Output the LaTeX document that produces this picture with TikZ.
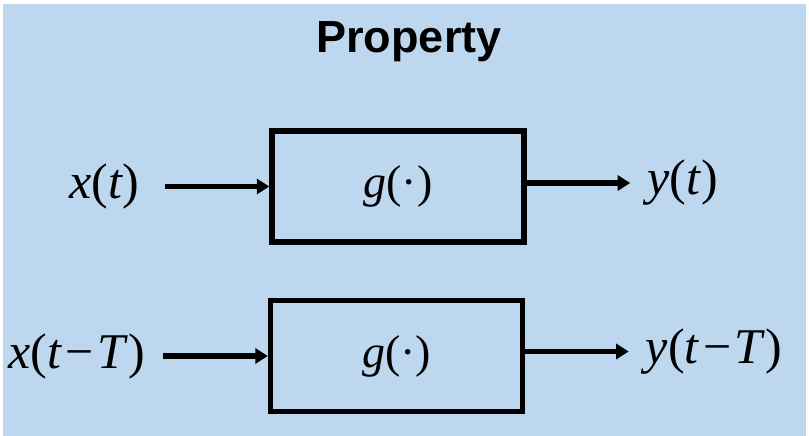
\documentclass[tikz,border=0pt]{standalone}
\usepackage{fontspec}
\setmainfont{Liberation Serif}
\newfontfamily\titlefont{Liberation Sans}
\usetikzlibrary{arrows.meta,positioning}
\definecolor{bgblue}{RGB}{189,215,238}
\newcommand{\sminus}{\hspace{0.07em}−\hspace{0.07em}}

\begin{document}
\begin{tikzpicture}[x=1pt, y=1pt, >=Triangle,
    block/.style={rectangle,draw=black,line width=5.4pt,minimum width=252pt,minimum height=111pt,inner sep=0pt,font=\fontsize{46}{52}\selectfont},
    sig/.style={inner sep=0pt,font=\fontsize{50}{56}\selectfont},
    line/.style={draw=black,line width=5.3pt,-{Triangle[length=12.5pt,width=15pt]}}]
    \useasboundingbox (0,0) rectangle (809,436);
    \fill[bgblue] (3,0) rectangle (806,432);
    \node[anchor=base,font=\titlefont\bfseries\fontsize{45}{50}\selectfont] (title) at (409,383) {Property};
    % system blocks
    \node[block] (b1) at (398,249.5) {\textit{g}(·)};
    \node[block] (b2) at (396.5,80) {\textit{g}(·)};
    % arrow ends
    \coordinate[left=104.5pt of b1.west] (s1);
    \coordinate[right=103.5pt of b1.east,yshift=3.5pt] (e1);
    \coordinate[left=104.5pt of b2.west] (s2);
    \coordinate[right=103.5pt of b2.east,yshift=4.5pt] (e2);
    % signals
    \node[sig,left=25pt of s1] (x1) {\textit{x}(\textit{t})};
    \node[sig,right=17pt of e1] (y1) {\textit{y}(\textit{t})};
    \node[sig,left=18pt of s2] (x2) {\textit{x}(\textit{t}\sminus\textit{T})};
    \node[sig,right=17pt of e2] (y2) {\textit{y}(\textit{t}\sminus\textit{T})};
    \path[line] (s1)--(b1.west); \path[line] ([yshift=3.5pt]b1.east)--(e1);
    \path[line] (s2)--(b2.west); \path[line] ([yshift=4.5pt]b2.east)--(e2);
  \end{tikzpicture}
\end{document}
